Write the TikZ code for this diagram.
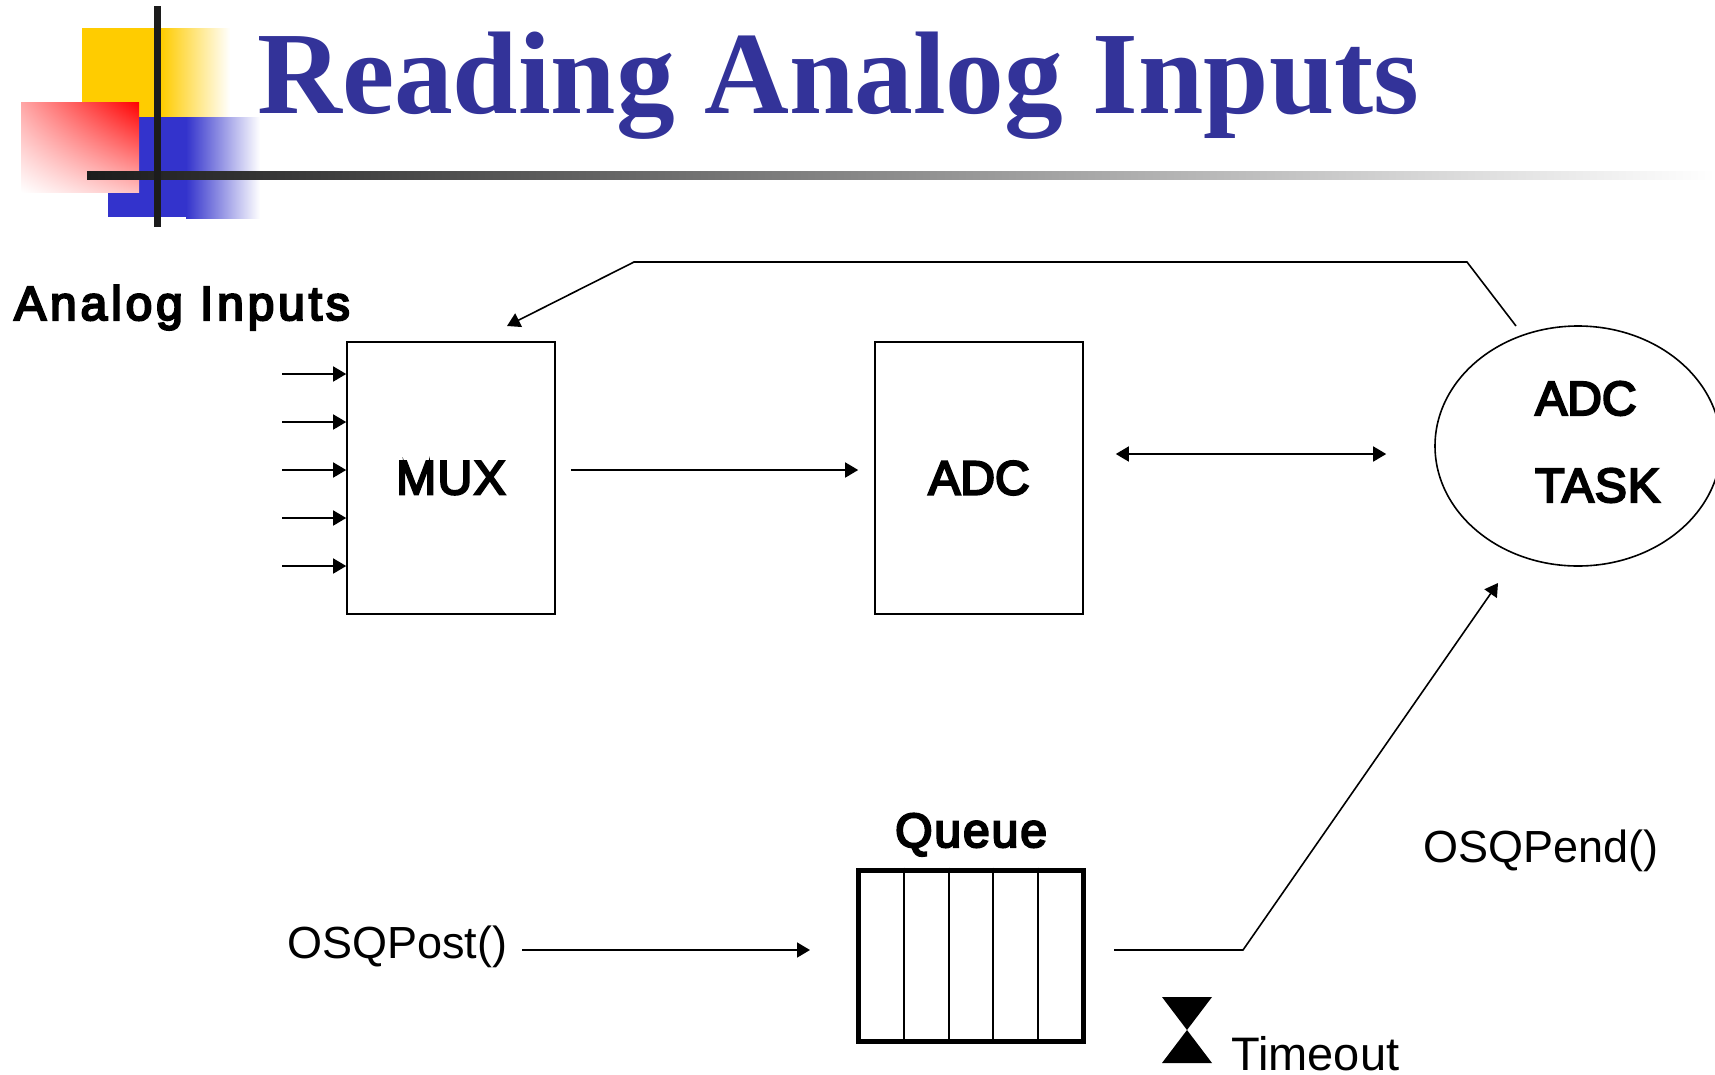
\documentclass[tikz,border=0pt]{standalone}
\usepackage{fontspec}
\setmainfont{Liberation Sans}
\newfontfamily\titlefont{Liberation Serif}
\newfontfamily\labelfont[FakeBold=4.5]{Liberation Sans}
\usetikzlibrary{shapes.geometric,shadings,arrows.meta}
\definecolor{titleblue}{HTML}{333399}
\definecolor{markblue}{HTML}{3333CC}
\definecolor{markyellow}{HTML}{FFCC00}
\definecolor{markdark}{HTML}{1C1C1C}
\tikzset{
	block/.style={draw, line width=1.6pt, minimum width=208pt, minimum height=272pt, inner sep=0pt, font=\fontsize{48}{50}\labelfont\addfontfeature{LetterSpace=#1}},
	block/.default=0,
	label/.style={inner sep=0pt, anchor=base west, font=\fontsize{45}{50}\selectfont},
	boldlabel/.style={inner sep=0pt, anchor=base west, font=\fontsize{48}{50}\labelfont\addfontfeature{LetterSpace=#1}},
	boldlabel/.default=2,
	link/.style={line width=1.6pt}
}
\begin{document}
\begin{tikzpicture}[x=1pt, y=-1pt, line join=miter, >={Triangle[length=13pt,width=15pt]}]
	\useasboundingbox (0,0) rectangle (1715,1074);
	
	% title mark
	\fill[markyellow] (82,28) rectangle (161,117);
	\shade[left color=markyellow, right color=white] (161,28) rectangle (230,117);
	\fill[markblue] (108,117) rectangle (186,217);
	\shade[left color=markblue, right color=white] (186,117) rectangle (260,218);
	\shade[upper right=red, lower left=white, upper left=red!35, lower right=red!25] (21,102) rectangle (139,192);
	\shade[left color=markdark, right color=white] (87,171) rectangle (1715,179);
	\fill[markdark] (154,6) rectangle (161,227);
	\node (title) at (257,113) [inner sep=0pt, anchor=base west, text=titleblue, font=\fontsize{117.5}{130}\titlefont\bfseries]{Reading Analog Inputs};
	
	\node (inputs) at (14,320) [boldlabel=8]{Analog Inputs};
	\node (mux) at (451,478) [block=3]{MUX};
	\node (adc) at (979,478) [block]{ADC};
	\node (task) at (1578,446) [draw, ellipse, line width=1.6pt, minimum width=286pt, minimum height=240pt, inner sep=0pt]{};
	\node (adctext) at (1535,415) [boldlabel=0]{ADC};
	\node (tasktext) at (1535,502) [boldlabel]{TASK};
	
	\foreach \i/\y in {1/374,2/422,3/470,4/518,5/566}{
		\coordinate (in\i) at (282,\y);
		\draw[link,->] (in\i) -- (in\i -| mux.west);
	}
	\draw[link,->,shorten <=15pt,shorten >=16pt] ([yshift=8pt]mux.east) -- ([yshift=8pt]adc.west);
	\draw[link,<->,shorten <=32pt,shorten >=48pt] ([yshift=24pt]adc.east) -- ([yshift=24pt]adc.east -| task.west);
	
	% feedback to the mux
	\coordinate (fbstart) at (1516,326);
	\coordinate (fbright) at (1467,262);
	\coordinate (fbleft) at (634,262);
	\coordinate (fbend) at (507,326);
	\draw[link,->] (fbstart) -- (fbright) -- (fbleft) -- (fbend);
	
	\node (queue) at (971,955.5) [draw, line width=5pt, minimum width=225pt, minimum height=171pt, inner sep=0pt]{};
	\foreach \x in {903.5,948.5,993,1038} \draw[line width=2pt] (queue.north -| \x,0) -- (queue.south -| \x,0);
	\node (queuetext) at (895,847) [boldlabel=4]{Queue};
	
	\node (post) at (287,958) [label]{OSQPost()};
	\draw[link,->,shorten <=15pt,shorten >=46pt] (post.east |- 0,950) -- (queue.west |- 0,950);
	
	\coordinate (outbend) at (1243,950);
	\coordinate (outend) at (1498,583);
	\draw[link,->,shorten <=28pt] (queue.east |- outbend) -- (outbend) -- (outend);
	\node (pend) at (1423,862) [label]{OSQPend()};
	
	% hourglass
	\fill (1162,997) -- (1212,997) -- (1162,1063) -- (1212,1063) -- cycle;
	\node (timeout) at (1231,1070) [label, font=\fontsize{47}{50}\selectfont]{Timeout};
\end{tikzpicture}
\end{document}
